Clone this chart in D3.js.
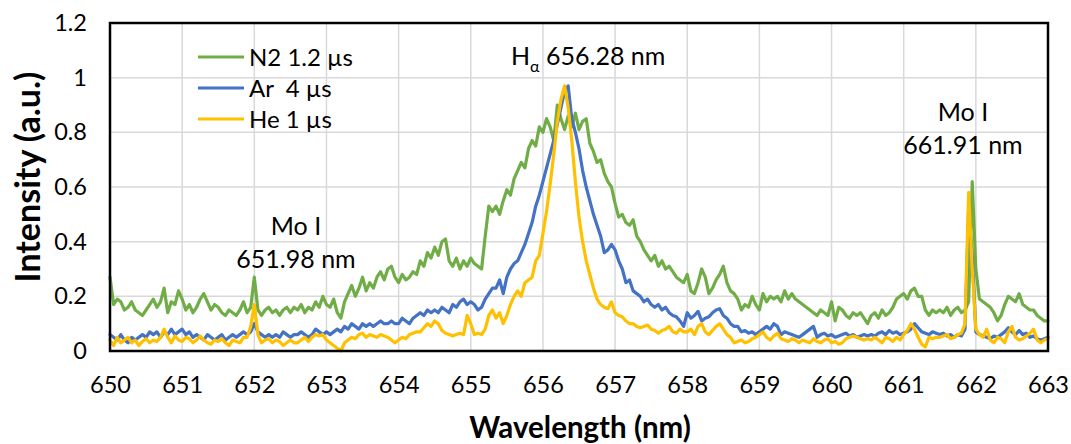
<!DOCTYPE html>
<html><head><meta charset="utf-8">
<script src="https://cdn.jsdelivr.net/npm/d3@7"></script>
<style>
body{margin:0;background:#fff}
svg{display:block}
text{font-family:Lato,"Open Sans",sans-serif;fill:#000}
</style>
</head><body>
<svg id="chart" width="1071" height="444"></svg>
<script>
// ---- data ----
const wavelengthStart = 650, wavelengthStep = 0.05;
const n2 = [
0.27,0.17,0.19,0.18,0.15,0.16,0.18,0.15,0.14,0.13,0.15,0.17,0.19,0.16,0.18,0.23,0.14,0.18,0.17,0.22,
0.19,0.15,0.17,0.14,0.16,0.19,0.21,0.18,0.15,0.17,0.16,0.14,0.13,0.15,0.14,0.13,0.15,0.18,0.14,0.16,
0.27,0.15,0.13,0.15,0.16,0.14,0.15,0.13,0.15,0.16,0.14,0.16,0.15,0.17,0.14,0.16,0.15,0.18,0.16,0.2,
0.17,0.16,0.19,0.14,0.12,0.18,0.21,0.24,0.2,0.23,0.27,0.22,0.25,0.23,0.27,0.29,0.26,0.3,0.31,0.27,
0.25,0.28,0.26,0.27,0.29,0.28,0.33,0.31,0.36,0.34,0.38,0.35,0.4,0.41,0.33,0.31,0.34,0.3,0.33,0.31,
0.34,0.32,0.31,0.3,0.42,0.53,0.51,0.53,0.5,0.55,0.59,0.57,0.63,0.66,0.69,0.67,0.74,0.77,0.75,0.82,
0.8,0.85,0.82,0.77,0.9,0.85,0.81,0.86,0.82,0.87,0.81,0.84,0.85,0.76,0.73,0.69,0.7,0.65,0.62,0.6,
0.54,0.49,0.5,0.47,0.46,0.48,0.42,0.4,0.37,0.35,0.33,0.35,0.31,0.33,0.3,0.31,0.29,0.27,0.26,0.25,
0.28,0.22,0.21,0.25,0.3,0.27,0.21,0.23,0.26,0.28,0.31,0.25,0.22,0.21,0.19,0.15,0.17,0.16,0.2,0.17,
0.15,0.21,0.18,0.2,0.19,0.2,0.18,0.22,0.19,0.21,0.19,0.18,0.17,0.16,0.15,0.14,0.13,0.15,0.14,0.13,
0.18,0.11,0.16,0.15,0.13,0.12,0.14,0.13,0.14,0.12,0.1,0.13,0.14,0.12,0.15,0.13,0.14,0.16,0.19,0.2,
0.21,0.19,0.22,0.23,0.2,0.2,0.15,0.13,0.15,0.14,0.15,0.14,0.16,0.13,0.15,0.16,0.14,0.15,0.18,0.62,
0.3,0.19,0.18,0.17,0.16,0.14,0.11,0.13,0.17,0.2,0.19,0.18,0.21,0.17,0.16,0.15,0.15,0.13,0.12,0.11,0.11];
const ar = [
0.06,0.05,0.04,0.06,0.04,0.03,0.05,0.04,0.05,0.06,0.05,0.07,0.06,0.07,0.05,0.07,0.06,0.08,0.06,0.07,
0.08,0.06,0.07,0.05,0.06,0.05,0.04,0.06,0.05,0.04,0.05,0.06,0.04,0.05,0.06,0.05,0.06,0.07,0.06,0.07,
0.1,0.07,0.06,0.05,0.06,0.05,0.06,0.05,0.07,0.06,0.05,0.06,0.06,0.07,0.06,0.05,0.06,0.08,0.07,0.06,
0.07,0.06,0.07,0.08,0.07,0.09,0.08,0.1,0.09,0.08,0.1,0.09,0.1,0.09,0.1,0.11,0.1,0.1,0.11,0.1,
0.1,0.12,0.11,0.1,0.12,0.13,0.14,0.13,0.15,0.14,0.15,0.14,0.16,0.15,0.14,0.17,0.16,0.18,0.19,0.17,
0.18,0.17,0.15,0.16,0.19,0.21,0.23,0.23,0.26,0.21,0.27,0.3,0.32,0.33,0.36,0.39,0.43,0.47,0.53,0.57,
0.62,0.67,0.72,0.77,0.83,0.89,0.95,0.97,0.85,0.8,0.74,0.66,0.6,0.55,0.5,0.46,0.42,0.36,0.37,0.39,
0.37,0.33,0.3,0.25,0.26,0.22,0.21,0.2,0.18,0.19,0.17,0.16,0.17,0.15,0.16,0.14,0.13,0.125,0.11,0.09,
0.14,0.12,0.13,0.145,0.11,0.12,0.125,0.14,0.15,0.155,0.13,0.12,0.1,0.09,0.09,0.07,0.075,0.065,0.07,0.06,
0.07,0.08,0.09,0.08,0.1,0.09,0.06,0.07,0.065,0.06,0.055,0.05,0.06,0.07,0.08,0.09,0.05,0.06,0.065,0.055,
0.06,0.05,0.055,0.06,0.065,0.055,0.06,0.05,0.055,0.06,0.055,0.06,0.055,0.065,0.07,0.06,0.075,0.065,0.07,0.06,
0.065,0.07,0.08,0.1,0.085,0.07,0.065,0.06,0.07,0.065,0.06,0.065,0.055,0.06,0.05,0.06,0.055,0.08,0.52,0.35,
0.07,0.06,0.055,0.05,0.045,0.055,0.05,0.06,0.07,0.085,0.07,0.06,0.075,0.06,0.065,0.05,0.055,0.045,0.04,0.045,0.05];
const he = [
0.04,0.02,0.05,0.03,0.04,0.05,0.03,0.04,0.02,0.035,0.045,0.03,0.04,0.035,0.05,0.08,0.05,0.03,0.055,0.04,
0.035,0.05,0.045,0.03,0.04,0.055,0.04,0.03,0.025,0.04,0.035,0.045,0.03,0.02,0.04,0.035,0.03,0.05,0.05,0.09,
0.17,0.06,0.03,0.04,0.045,0.03,0.04,0.035,0.02,0.03,0.04,0.03,0.03,0.04,0.05,0.035,0.05,0.06,0.055,0.06,
0.04,0.03,0.02,0.01,0.0,0.03,0.04,0.05,0.045,0.06,0.065,0.05,0.06,0.055,0.05,0.06,0.055,0.05,0.04,0.03,
0.04,0.05,0.045,0.06,0.065,0.07,0.07,0.085,0.1,0.09,0.11,0.1,0.075,0.065,0.06,0.055,0.06,0.065,0.06,0.13,
0.1,0.06,0.065,0.06,0.08,0.13,0.15,0.12,0.14,0.1,0.13,0.17,0.2,0.22,0.2,0.25,0.26,0.27,0.33,0.35,
0.43,0.51,0.61,0.72,0.84,0.92,0.97,0.89,0.77,0.62,0.49,0.4,0.33,0.28,0.23,0.19,0.17,0.16,0.155,0.18,
0.14,0.13,0.125,0.11,0.1,0.1,0.09,0.085,0.09,0.095,0.08,0.075,0.065,0.075,0.08,0.09,0.07,0.065,0.08,0.07,
0.07,0.08,0.06,0.09,0.1,0.07,0.06,0.075,0.09,0.1,0.08,0.06,0.05,0.03,0.035,0.04,0.03,0.035,0.045,0.05,
0.06,0.07,0.05,0.04,0.055,0.065,0.045,0.04,0.035,0.045,0.04,0.03,0.04,0.035,0.03,0.045,0.035,0.03,0.04,0.045,
0.03,0.035,0.025,0.03,0.045,0.05,0.055,0.05,0.045,0.04,0.045,0.04,0.05,0.04,0.03,0.05,0.045,0.035,0.05,0.04,
0.06,0.075,0.1,0.08,0.05,0.025,0.015,0.05,0.045,0.05,0.05,0.055,0.06,0.045,0.05,0.06,0.065,0.1,0.58,0.3,
0.08,0.06,0.05,0.08,0.04,0.03,0.05,0.045,0.03,0.07,0.09,0.05,0.04,0.045,0.055,0.065,0.08,0.04,0.03,0.04,0.045];
const seriesNames = ["N2 1.2 µs", "Ar  4 µs", "He 1 µs"];
const seriesColors = ["#70AD47", "#4472C4", "#FFC000"];
const xTicks = [650,651,652,653,654,655,656,657,658,659,660,661,662,663];
const yTicks = [0,0.2,0.4,0.6,0.8,1,1.2];
const yTickLabels = ["0","0.2","0.4","0.6","0.8","1","1.2"];
const annotations = [
  {lines:["Mo I","651.98 nm"], at:651.98},
  {lines:["Mo I","661.91 nm"], at:661.91}
];

// ---- layout ----
const L = 110, R = 1048, T = 23, B = 351;
const svg = d3.select("#chart");
const x = d3.scaleLinear().domain([650, 663]).range([L, R]);
const y = d3.scaleLinear().domain([0, 1.2]).range([B, T]);

// gridlines
svg.append("g").selectAll("line").data(xTicks.slice(1, -1)).join("line")
  .attr("x1", d => x(d)).attr("x2", d => x(d)).attr("y1", T).attr("y2", B)
  .attr("stroke", "#d9d9d9").attr("stroke-width", 1.5);
svg.append("g").selectAll("line").data(yTicks.slice(1, -1)).join("line")
  .attr("x1", L).attr("x2", R).attr("y1", d => y(d)).attr("y2", d => y(d))
  .attr("stroke", "#d9d9d9").attr("stroke-width", 1.5);

// series
const series = [n2, ar, he];
const line = d3.line()
  .x((d, i) => x(wavelengthStart + i * wavelengthStep))
  .y(d => y(d));
series.forEach((s, k) => {
  svg.append("path").datum(s).attr("d", line)
    .attr("fill", "none").attr("stroke", seriesColors[k])
    .attr("stroke-width", 3.2).attr("stroke-linejoin", "round").attr("stroke-linecap", "round");
});

// frame
svg.append("rect").attr("x", L).attr("y", T).attr("width", R - L).attr("height", B - T)
  .attr("fill", "none").attr("stroke", "#000").attr("stroke-width", 2.5);

// axes
const xAxis = svg.append("g").attr("transform", `translate(0,${B})`)
  .call(d3.axisBottom(x).tickValues(xTicks).tickFormat(d3.format("d")).tickSize(0).tickPadding(25));
xAxis.select(".domain").remove();
xAxis.selectAll("text").attr("font-size", 23.5).attr("font-family", "Lato");

const yAxis = svg.append("g").attr("transform", `translate(${L},0)`)
  .call(d3.axisLeft(y).tickValues(yTicks).tickFormat((d, i) => yTickLabels[i]).tickSize(0).tickPadding(23));
yAxis.select(".domain").remove();
yAxis.selectAll("text").attr("font-size", 23.5).attr("font-family", "Lato");

// axis titles
svg.append("text").attr("x", (L + R) / 2 + 1).attr("y", 438).attr("text-anchor", "middle")
  .attr("font-size", 29.5).attr("font-weight", "bold").text("Wavelength (nm)");
svg.append("text").attr("transform", "translate(40,177) rotate(-90)").attr("text-anchor", "middle")
  .attr("font-size", 34).attr("font-weight", "bold").text("Intensity (a.u.)");

// legend
const lg = svg.append("g");
seriesNames.forEach((n, k) => {
  const yy = 57 + k * 31;
  lg.append("line").attr("x1", 198).attr("x2", 244).attr("y1", yy).attr("y2", yy)
    .attr("stroke", seriesColors[k]).attr("stroke-width", 3.2);
  lg.append("text").attr("x", 249).attr("y", yy).attr("dy", "0.36em")
    .attr("font-size", 24).style("white-space", "pre").attr("xml:space", "preserve").text(n);
});

// annotations (label blocks sit beside their peaks)
const annPos = [{cx: 296, ys: [235, 268]}, {cx: 963, ys: [121, 154]}];
annotations.forEach((a, k) => {
  a.lines.forEach((t, j) => {
    svg.append("text").attr("x", annPos[k].cx).attr("y", annPos[k].ys[j])
      .attr("text-anchor", "middle").attr("font-size", 25).text(t);
  });
});
const ha = svg.append("text").attr("x", 511).attr("y", 65).attr("font-size", 25);
ha.append("tspan").text("H");
ha.append("tspan").attr("font-size", 16).attr("dy", 7).text("α");
ha.append("tspan").attr("dy", -7).text(" 656.28 nm");
</script>
</body></html>
